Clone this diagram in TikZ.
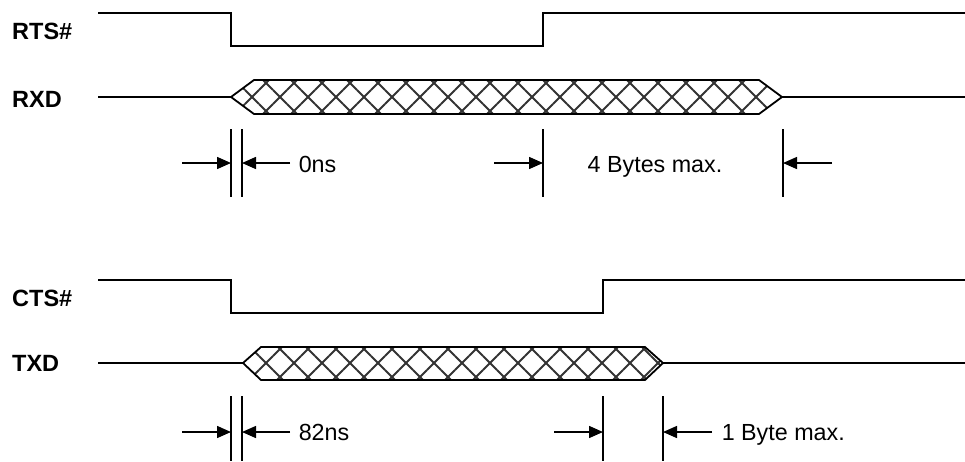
\documentclass[tikz,border=0pt]{standalone}
\usepackage{fontspec}
\setmainfont{Liberation Sans}
\usetikzlibrary{arrows.meta,patterns.meta}
\tikzset{
  sig/.style={line width=1.8pt},
  dimline/.style={line width=1.5pt},
  dimarrow/.style={line width=1.5pt,-{Triangle[length=14pt,width=12pt]}},
  busfill/.style={sig,line join=round,
    preaction={pattern={Lines[angle=45,distance=19.8pt,line width=2pt]},pattern color=black!80},
    pattern={Lines[angle=-45,distance=19.8pt,line width=2pt]},pattern color=black!80},
  siglabel/.style={anchor=base west,inner sep=0pt,font=\fontsize{23.5}{23.5}\selectfont\bfseries},
  dimlabel/.style={inner sep=0pt,font=\fontsize{23.3}{23.3}\selectfont}
}
\begin{document}
\begin{tikzpicture}[x=1pt,y=-1pt]
\useasboundingbox[fill=white] (0,0) rectangle (965,461);
% signal names
\node[siglabel] (rts) at (12,39) {RTS\#};
\node[siglabel] (rxd) at (12,107) {RXD};
\node[siglabel] (cts) at (12,306) {CTS\#};
\node[siglabel] (txd) at (12,371) {TXD};
% RTS# and RXD
\draw[sig] (98,13) -- (231,13) -- (231,46) -- (543,46) -- (543,13) -- (965,13);
\draw[sig] (98,97) -- (231,97);
\draw[busfill] (231,97) -- (254,80) -- (759,80) -- (782,97) -- (759,114) -- (254,114) -- cycle;
\draw[sig] (782,97) -- (965,97);
% CTS# and TXD
\draw[sig] (98,280) -- (231,280) -- (231,313) -- (603,313) -- (603,280) -- (965,280);
\draw[sig] (98,363) -- (243,363);
\draw[busfill] (243,363) -- (261,347) -- (645,347) -- (663,363) -- (645,380) -- (261,380) -- cycle;
\draw[sig] (663,363) -- (965,363);
% timing, first pair
\foreach \x in {231,242,543,783} \draw[dimline] (\x,129) -- (\x,197);
\coordinate (A1) at (231,163);
\coordinate (A2) at (242,163);
\coordinate (A3) at (543,163);
\coordinate (A4) at (783,163);
\draw[dimarrow] (182,163) -- (A1);
\draw[dimarrow] (290,163) -- (A2) node[dimlabel,anchor=base west] at (298,172) {0ns};
\draw[dimarrow] (494,163) -- (A3);
\draw[dimarrow] (832,163) -- (A4);
\node[dimlabel,anchor=base] (bytes4) at (655,172) {4 Bytes max.};
% timing, second pair
\foreach \x in {231,242,603,663} \draw[dimline] (\x,396) -- (\x,461);
\coordinate (B1) at (231,432);
\coordinate (B2) at (242,432);
\coordinate (B3) at (603,432);
\coordinate (B4) at (663,432);
\draw[dimarrow] (182,432) -- (B1);
\draw[dimarrow] (290,432) -- (B2) node[dimlabel,anchor=base west] at (298,440) {82ns};
\draw[dimarrow] (554,432) -- (B3);
\draw[dimarrow] (712,432) -- (B4) node[dimlabel,anchor=base west] at (721,440) {1 Byte max.};
\end{tikzpicture}
\end{document}
